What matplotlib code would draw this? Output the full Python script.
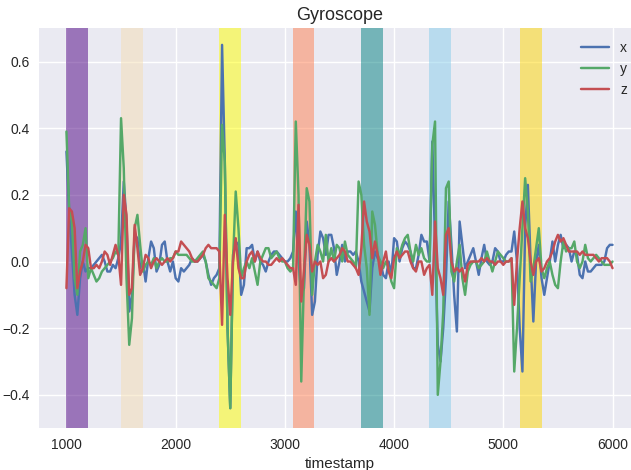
import numpy as np
import matplotlib
matplotlib.use("Agg")
import matplotlib.pyplot as plt

# gyroscope readings, one sample every 25 ms from 1000 to 6000
timestamp = np.arange(1000, 6001, 25)

gyro_x = [
    0.33, 0.15, 0.03, -0.10, -0.16, -0.05, 0.00, -0.03,
    -0.02, -0.02, -0.01, 0.00, 0.01, 0.02, 0.00, -0.03,
    -0.03, -0.01, -0.02, 0.01, 0.06, 0.24, 0.12, -0.15,
    -0.10, 0.08, 0.07, -0.02, 0.00, -0.06, 0.01, 0.06,
    0.04, -0.03, -0.01, 0.05, 0.06, 0.00, -0.03, 0.00,
    -0.05, -0.06, -0.02, -0.03, -0.02, -0.01, 0.01, 0.00,
    0.00, 0.01, 0.02, 0.00, -0.04, -0.07, -0.05, -0.04,
    -0.02, 0.65, 0.30, -0.20, -0.44, 0.02, 0.06, 0.05,
    -0.10, -0.07, 0.04, 0.04, 0.05, 0.00, 0.03, 0.00,
    -0.01, -0.03, 0.00, 0.02, 0.03, 0.03, 0.02, 0.01,
    0.00, 0.00, 0.01, 0.03, 0.15, 0.00, -0.10, -0.08,
    0.12, 0.05, -0.16, -0.12, 0.02, 0.09, 0.07, 0.02,
    0.08, 0.08, 0.04, -0.04, 0.00, 0.05, 0.00, 0.03,
    0.03, 0.02, 0.03, 0.00, -0.06, -0.09, -0.12, -0.15,
    -0.02, 0.03, 0.01, 0.00, -0.04, -0.05, 0.00, -0.04,
    0.07, 0.06, 0.00, 0.04, 0.06, 0.05, 0.03, -0.02,
    -0.02, 0.02, 0.08, 0.06, 0.06, 0.00, 0.36, 0.05,
    -0.25, -0.30, -0.20, -0.05, 0.18, 0.05, -0.10, -0.21,
    0.12, 0.05, -0.02, 0.00, 0.02, 0.04, 0.00, -0.04,
    0.01, 0.05, 0.00, -0.01, 0.00, 0.04, 0.03, 0.00,
    0.00, 0.02, 0.03, 0.03, 0.09, 0.00, -0.20, -0.33,
    0.10, 0.23, 0.00, -0.18, 0.00, 0.05, -0.05, -0.10,
    -0.05, 0.00, 0.06, 0.00, 0.05, 0.08, 0.04, 0.05,
    0.04, 0.00, 0.03, 0.02, -0.04, -0.05, 0.00, -0.03,
    -0.03, -0.02, -0.01, -0.01, -0.01, 0.00, 0.04, 0.05,
    0.05,
]

gyro_y = [
    0.39, 0.16, 0.12, -0.05, -0.10, 0.03, 0.05, 0.10,
    -0.05, -0.02, -0.04, -0.06, -0.05, -0.03, -0.02, -0.01,
    0.00, 0.01, 0.03, 0.02, 0.43, 0.28, -0.05, -0.25,
    -0.17, 0.10, 0.14, 0.05, -0.03, -0.01, 0.00, -0.01,
    0.01, -0.02, 0.00, 0.01, 0.00, 0.00, 0.01, 0.01,
    0.03, 0.02, 0.02, 0.02, 0.02, 0.01, 0.00, 0.00,
    0.01, 0.02, 0.03, 0.00, -0.05, -0.06, -0.07, -0.08,
    -0.05, 0.41, 0.30, -0.20, -0.44, 0.00, 0.21, 0.10,
    -0.05, -0.02, 0.00, -0.02, 0.01, -0.03, -0.07, 0.00,
    0.02, 0.04, 0.04, 0.01, 0.02, 0.03, 0.01, 0.00,
    0.00, -0.02, -0.03, -0.02, 0.42, 0.20, -0.36, -0.05,
    0.22, 0.18, -0.10, 0.00, 0.05, 0.03, 0.00, 0.08,
    0.00, 0.04, 0.00, 0.05, 0.04, 0.00, 0.06, 0.02,
    0.01, 0.00, -0.02, 0.24, 0.20, 0.05, -0.02, -0.16,
    0.15, 0.11, 0.02, 0.00, -0.02, 0.00, -0.02, -0.06,
    -0.08, 0.04, 0.02, 0.05, 0.07, 0.08, 0.03, 0.00,
    0.05, 0.02, 0.04, 0.01, 0.00, 0.00, 0.35, 0.42,
    -0.40, -0.30, -0.15, 0.22, 0.24, -0.03, -0.06, 0.00,
    0.05, -0.05, -0.10, -0.03, -0.01, 0.00, 0.00, -0.02,
    -0.01, 0.00, 0.03, 0.00, -0.03, 0.00, 0.03, 0.02,
    0.01, 0.00, 0.00, 0.01, -0.33, -0.20, -0.05, 0.10,
    0.25, 0.15, -0.06, -0.02, 0.04, 0.10, -0.02, -0.05,
    -0.02, 0.00, -0.04, -0.07, -0.08, 0.00, 0.06, 0.03,
    0.04, 0.04, 0.06, 0.00, -0.02, 0.00, 0.05, 0.01,
    0.00, 0.01, 0.02, 0.01, 0.00, -0.01, -0.01, -0.01,
    0.00,
]

gyro_z = [
    -0.08, 0.16, 0.15, 0.10, -0.08, -0.03, 0.00, 0.05,
    0.04, -0.02, -0.02, -0.01, -0.02, 0.00, 0.03, 0.02,
    -0.01, 0.02, 0.05, 0.02, -0.07, 0.20, 0.14, -0.10,
    -0.08, 0.11, 0.04, -0.04, -0.02, 0.02, 0.01, -0.02,
    0.00, 0.01, 0.00, -0.01, 0.00, 0.01, 0.00, 0.01,
    0.03, 0.03, 0.06, 0.05, 0.04, 0.03, 0.01, 0.00,
    0.00, 0.01, 0.02, 0.04, 0.05, 0.04, 0.04, 0.04,
    0.03, -0.19, 0.14, -0.05, -0.16, 0.00, 0.07, -0.02,
    -0.05, -0.05, 0.00, 0.02, 0.03, 0.00, 0.03, 0.01,
    0.00, 0.00, -0.01, -0.01, 0.00, 0.01, 0.00, 0.01,
    0.00, -0.01, -0.02, -0.02, -0.07, 0.17, -0.12, -0.03,
    0.08, 0.05, -0.03, 0.00, -0.01, 0.00, -0.05, -0.04,
    0.00, 0.01, 0.00, 0.01, 0.02, 0.04, 0.03, 0.00,
    0.00, -0.01, -0.02, -0.04, 0.04, 0.18, 0.12, 0.09,
    0.01, 0.06, 0.02, -0.04, 0.00, 0.03, -0.03, -0.05,
    0.01, 0.03, 0.01, 0.02, 0.03, 0.03, 0.00, -0.02,
    -0.03, 0.00, 0.00, -0.04, -0.02, -0.01, -0.10, 0.12,
    -0.02, -0.05, -0.10, 0.08, 0.10, 0.00, -0.03, -0.02,
    -0.03, -0.02, -0.06, -0.01, 0.00, 0.00, 0.00, 0.00,
    0.01, 0.00, 0.01, 0.00, 0.00, -0.01, 0.00, 0.00,
    -0.01, 0.00, 0.00, 0.01, -0.13, 0.00, 0.10, 0.18,
    0.10, 0.07, 0.00, -0.04, 0.00, 0.01, -0.03, -0.02,
    0.00, 0.01, 0.03, 0.06, 0.08, 0.06, 0.07, 0.05,
    0.03, 0.03, 0.03, 0.03, 0.02, 0.03, 0.02, 0.02,
    0.02, 0.02, 0.01, 0.00, 0.01, 0.01, 0.01, 0.00,
    -0.02,
]

# highlighted events (start, end, colour)
event_start = [1000, 1500, 2400, 3070, 3700, 4320, 5150]
event_end = [1200, 1700, 2600, 3270, 3900, 4520, 5350]
event_color = ['indigo', 'wheat', 'yellow', 'coral', 'teal', 'skyblue', 'gold']

plt.style.use('seaborn-v0_8')
plt.rcParams['font.family'] = ['Liberation Sans', 'DejaVu Sans']

fig = plt.figure(figsize=(6.31, 4.70), dpi=100)
# the original figure was cropped on the right, so the axes run past the edge
ax = fig.add_axes([0.062, 0.089, 0.952, 0.851])

ax.plot(timestamp, gyro_x, label='x')
ax.plot(timestamp, gyro_y, label='y')
ax.plot(timestamp, gyro_z, label='z')

for s, e, c in zip(event_start, event_end, event_color):
    ax.axvspan(s, e, color=c, alpha=0.5, lw=0)

ax.set_ylim(-0.5, 0.7)
ax.set_xlim(750, 6250)
ax.set_title('Gyroscope', fontsize=13)
ax.set_xlabel('timestamp')
ax.legend(loc='upper right')

fig.savefig('out.png', dpi=100)
